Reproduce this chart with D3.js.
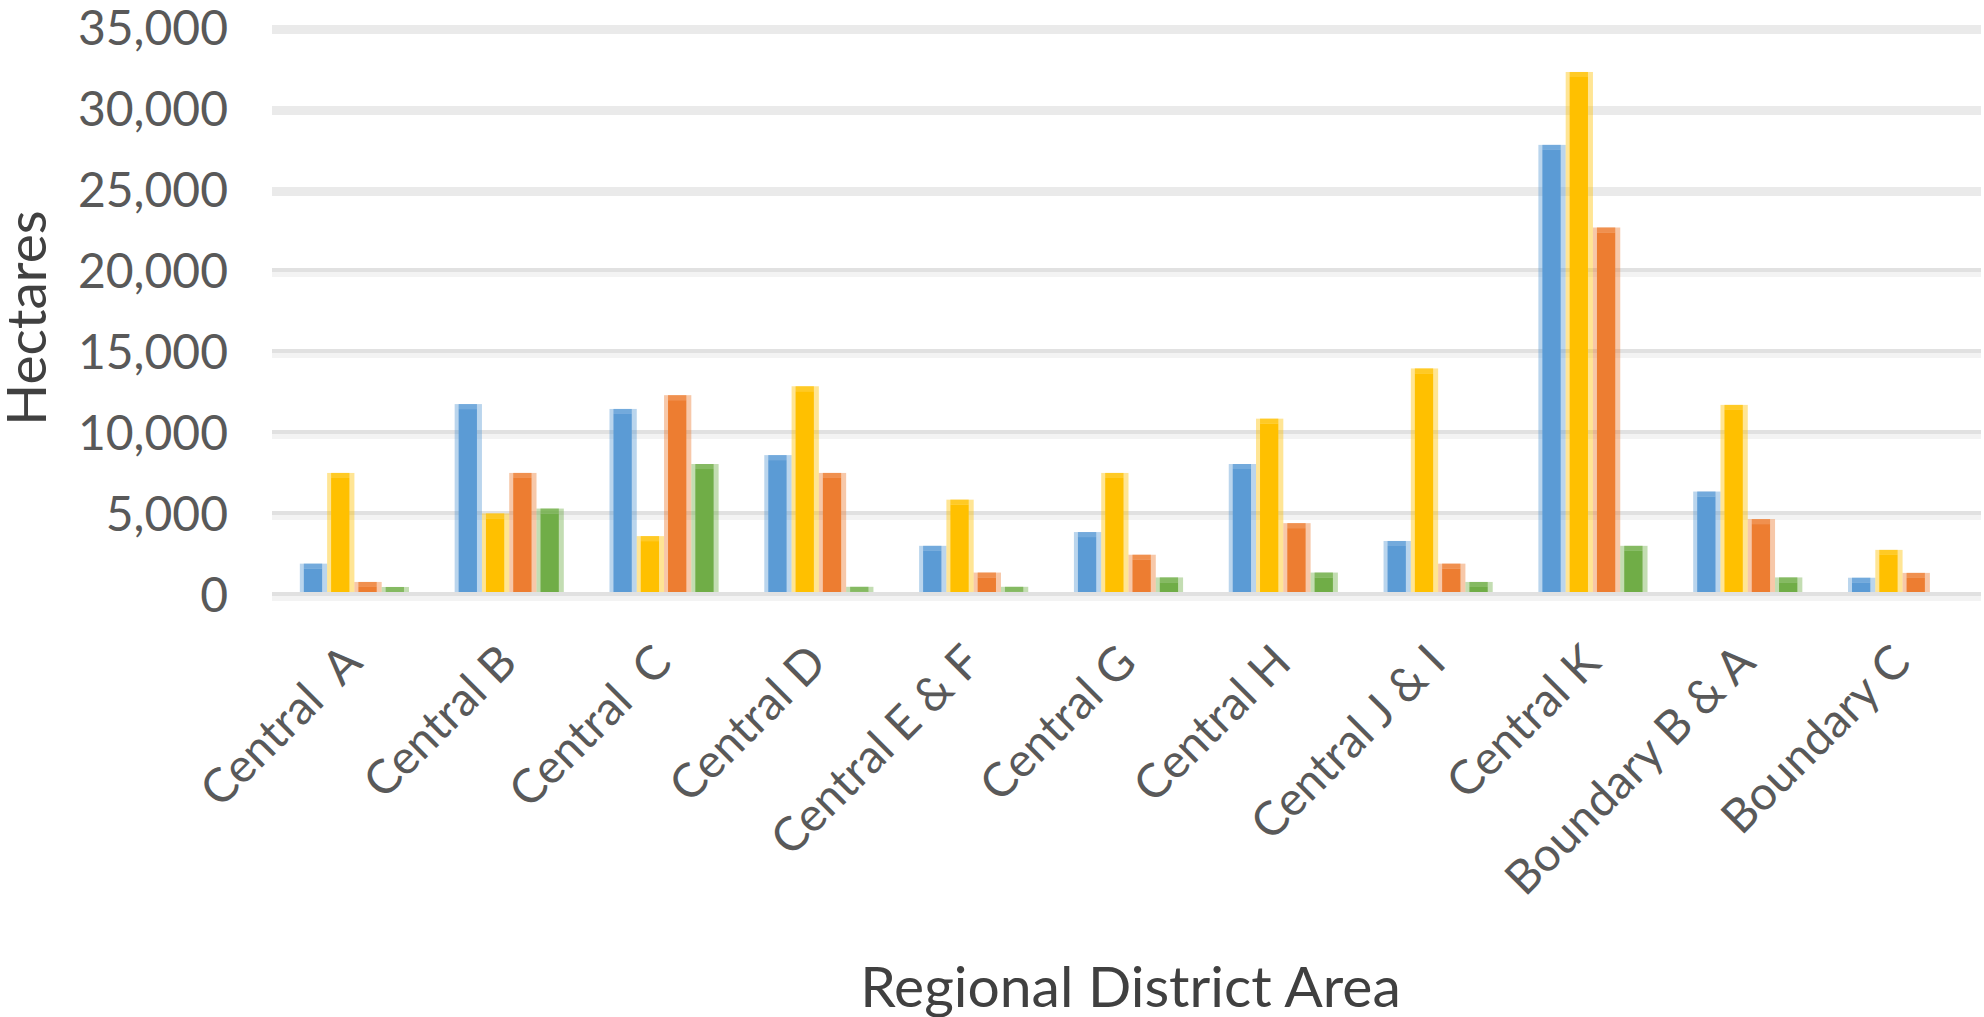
<!DOCTYPE html>
<html>
<head>
<meta charset="utf-8">
<script src="https://cdn.jsdelivr.net/npm/d3@7"></script>
<style>
  html, body { margin: 0; padding: 0; background: #ffffff; }
  svg { display: block; }
  text { font-family: "Lato", "Open Sans", sans-serif; }
</style>
</head>
<body>
<svg id="chart" width="1984" height="1017"></svg>
<script>
// ---- data ----
const categories = ["Central  A", "Central B", "Central  C", "Central D", "Central E & F",
  "Central G", "Central H", "Central J & I", "Central K", "Boundary B & A", "Boundary C"];
const seriesNames = ["Series 1", "Series 2", "Series 3", "Series 4"];
const series1 = [1750, 11600, 11300, 8450, 2850, 3700, 7900, 3150, 27600, 6200, 880];
const series2 = [7350, 4850, 3450, 12700, 5700, 7350, 10700, 13800, 32100, 11550, 2600];
const series3 = [620, 7350, 12150, 7350, 1200, 2300, 4250, 1750, 22500, 4500, 1180];
const series4 = [310, 5150, 7900, 320, 320, 900, 1200, 620, 2850, 900, 0];
const yTicks = [0, 5000, 10000, 15000, 20000, 25000, 30000, 35000];
const colors = ["#5b9bd5", "#ffc000", "#ed7d31", "#70ad47"];
const yTitle = "Hectares";
const xTitle = "Regional District Area";

const allSeries = [series1, series2, series3, series4];
const rows = categories.map((c, i) => ({
  cat: c,
  vals: seriesNames.map((s, j) => ({ key: s, idx: j, v: allSeries[j][i] }))
}));

const svg = d3.select("#chart");
const plotL = 277, plotR = 1980, plotT = 25, plotB = 592;

const x0 = d3.scaleBand().domain(categories).range([plotL, plotR])
  .paddingInner(0.295).paddingOuter(0.1475);
const x1 = d3.scaleBand().domain(seriesNames).range([0, x0.bandwidth()]);
const y = d3.scaleLinear().domain([0, 35000]).range([plotB, plotT]);

// gridlines
const grid = svg.append("g");
yTicks.forEach(t => {
  const gy = y(t);
  if (t > 20000) {
    grid.append("rect").attr("x", plotL - 5).attr("y", gy).attr("width", plotR - plotL + 6)
      .attr("height", 9).attr("fill", "#eaeaea");
  } else {
    grid.append("rect").attr("x", plotL - 5).attr("y", gy).attr("width", plotR - plotL + 6)
      .attr("height", 4).attr("fill", "#e1e1e1");
    grid.append("rect").attr("x", plotL - 5).attr("y", gy + 4).attr("width", plotR - plotL + 6)
      .attr("height", 5).attr("fill", "#f3f3f3");
  }
});

// y axis labels
const yAxis = d3.axisLeft(y).tickValues(yTicks).tickFormat(d3.format(",")).tickSize(0).tickPadding(0);
const yg = svg.append("g").attr("transform", `translate(228,4)`).call(yAxis);
yg.select(".domain").remove();
yg.selectAll("text").attr("font-size", 48).attr("fill", "#595959")
  .style("font-family", "Lato, 'Open Sans', sans-serif");

// bars
const groups = svg.append("g").selectAll("g").data(rows).join("g")
  .attr("transform", d => `translate(${x0(d.cat)},0)`);
groups.each(function (d) {
  const g = d3.select(this);
  d.vals.filter(e => e.v > 0).forEach(e => {
    const bx = x1(e.key), bw = x1.bandwidth();
    const by = y(e.v), bh = plotB - y(e.v);
    g.append("rect").attr("x", bx).attr("y", by).attr("width", bw).attr("height", bh)
      .attr("fill", colors[e.idx]).attr("fill-opacity", 0.42);
    g.append("rect").attr("x", bx + 4).attr("y", by).attr("width", Math.max(0, bw - 9))
      .attr("height", Math.min(5, bh)).attr("fill", colors[e.idx]).attr("fill-opacity", 0.75);
    if (bh > 5) {
      g.append("rect").attr("x", bx + 4).attr("y", by + 5).attr("width", Math.max(0, bw - 9))
        .attr("height", bh - 5).attr("fill", colors[e.idx]);
    }
  });
});

// category labels (rotated)
const xAxis = d3.axisBottom(x0).tickSize(0).tickPadding(0);
const xg = svg.append("g").attr("transform", `translate(0,${plotB})`).call(xAxis);
xg.select(".domain").remove();
xg.selectAll(".tick text")
  .attr("font-size", 47).attr("fill", "#595959")
  .style("white-space", "pre")
  .attr("text-anchor", "end")
  .attr("dy", 0).attr("y", 0)
  .attr("transform", "translate(10,73) rotate(-45)");

// axis titles
svg.append("text").attr("transform", "translate(46,318) rotate(-90)")
  .attr("text-anchor", "middle").attr("font-size", 55).attr("fill", "#404040").text(yTitle);
svg.append("text").attr("x", (plotL + plotR) / 2 + 2).attr("y", 1007)
  .attr("text-anchor", "middle").attr("font-size", 57).attr("fill", "#404040").text(xTitle);
</script>
</body>
</html>
